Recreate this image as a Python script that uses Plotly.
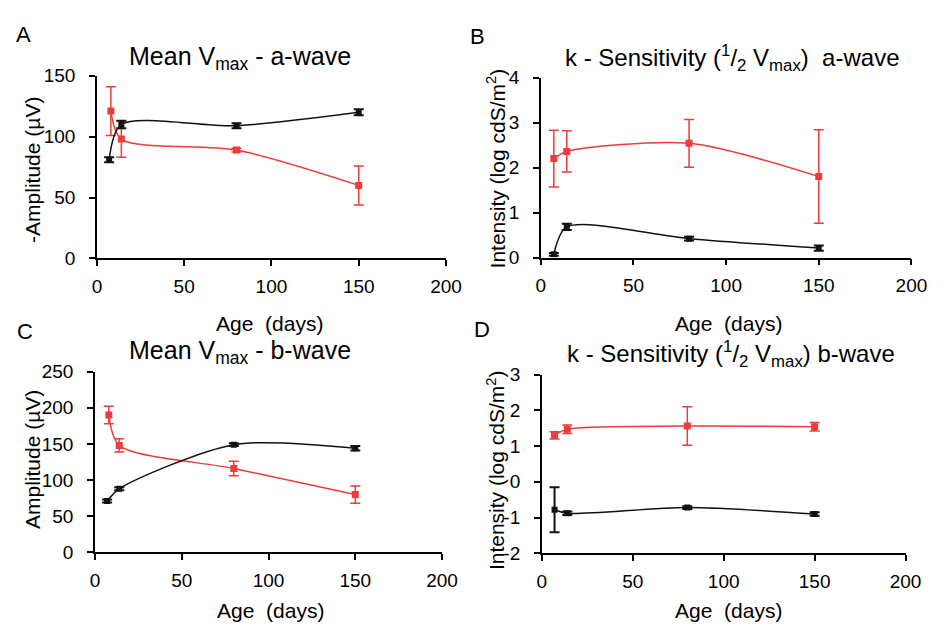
import plotly.graph_objects as go

# ---------------- data ----------------
age = [7, 14, 80, 150]
age_red_vmax = [8, 14, 80, 150]

# A: Mean Vmax a-wave (-Amplitude, uV)
a_vmax_black = [81, 110, 109, 120]
a_vmax_black_err = [2, 3, 2, 2.5]
a_vmax_red = [121, 98, 89, 60]
a_vmax_red_err = [20, 15, 1.5, 16]

# B: k sensitivity a-wave (log cdS/m2)
a_k_black = [0.07, 0.68, 0.42, 0.21]
a_k_black_err = [0.03, 0.07, 0.04, 0.06]
a_k_red = [2.2, 2.36, 2.54, 1.8]
a_k_red_err = [0.63, 0.46, 0.53, 1.04]

# C: Mean Vmax b-wave (Amplitude, uV)
b_vmax_black = [71, 88, 149, 144]
b_vmax_black_err = [2, 2, 2, 3]
b_vmax_red = [190, 148, 116, 80]
b_vmax_red_err = [12, 9, 10, 12]

# D: k sensitivity b-wave
b_k_black = [-0.78, -0.88, -0.72, -0.9]
b_k_black_err = [0.63, 0.05, 0.04, 0.05]
b_k_red = [1.3, 1.47, 1.56, 1.54]
b_k_red_err = [0.1, 0.12, 0.54, 0.12]

x_ticks = [0, 50, 100, 150, 200]
y_ticks_a = [0, 50, 100, 150]
y_ticks_b = [0, 1, 2, 3, 4]
y_ticks_c = [0, 50, 100, 150, 200, 250]
y_ticks_d = [-2, -1, 0, 1, 2, 3]
y_ticktext_d = ["-2", "-1", "0", "1", "2", "3"]

RED = "#ee3b3b"
BLACK = "#111111"
FONT = "Liberation Sans, Arial, sans-serif"

W, H = 946, 634


def px_x(p):
    return p / W


def px_y(p):
    return 1 - p / H


fig = go.Figure()

panels = [
    ("x", "y", age_red_vmax, a_vmax_black, a_vmax_black_err, a_vmax_red, a_vmax_red_err),
    ("x2", "y2", age, a_k_black, a_k_black_err, a_k_red, a_k_red_err),
    ("x3", "y3", age_red_vmax, b_vmax_black, b_vmax_black_err, b_vmax_red, b_vmax_red_err),
    ("x4", "y4", age, b_k_black, b_k_black_err, b_k_red, b_k_red_err),
]

for xa, ya, rx, bk, bke, rd, rde in panels:
    fig.add_trace(go.Scatter(
        x=rx, y=rd, xaxis=xa, yaxis=ya,
        mode="lines+markers",
        line=dict(color=RED, width=1.5, shape="spline", smoothing=0.8),
        marker=dict(symbol="square", size=7, color=RED),
        error_y=dict(type="data", array=rde, color=RED, thickness=1.5, width=5),
        showlegend=False,
    ))
    fig.add_trace(go.Scatter(
        x=age, y=bk, xaxis=xa, yaxis=ya,
        mode="lines+markers",
        line=dict(color=BLACK, width=1.5, shape="spline", smoothing=0.8),
        marker=dict(symbol="square", size=6, color=BLACK),
        error_y=dict(type="data", array=bke, color=BLACK, thickness=2, width=5),
        showlegend=False,
    ))

axis_common = dict(
    showline=True, linecolor="black", linewidth=1.5,
    ticks="outside", ticklen=6, tickwidth=1.5, tickcolor="black",
    showgrid=False, zeroline=False,
    tickfont=dict(family=FONT, size=19, color="black"),
)

domains = {
    "A": dict(x=(94, 451), y=(68, 257), yr=(0, 150), yt=y_ticks_a, ytt=None),
    "B": dict(x=(548, 927), y=(70, 256), yr=(0, 4), yt=y_ticks_b, ytt=None),
    "C": dict(x=(92, 447), y=(374, 561), yr=(0, 250), yt=y_ticks_c, ytt=None),
    "D": dict(x=(549, 921), y=(377, 562), yr=(-2, 3), yt=y_ticks_d, ytt=y_ticktext_d),
}

layout_axes = {}
for i, key in enumerate(["A", "B", "C", "D"]):
    d = domains[key]
    suffix = "" if i == 0 else str(i + 1)
    layout_axes["xaxis" + suffix] = dict(
        axis_common,
        domain=[px_x(d["x"][0]), px_x(d["x"][1])],
        range=[0, 200], tickvals=x_ticks,
        anchor="y" + suffix, ticklabelstandoff=4,
    )
    yax = dict(
        axis_common,
        domain=[px_y(d["y"][1]), px_y(d["y"][0])],
        range=list(d["yr"]), tickvals=d["yt"],
        anchor="x" + suffix, ticklabelstandoff=10,
    )
    if d["ytt"] is not None:
        yax["ticktext"] = d["ytt"]
    layout_axes["yaxis" + suffix] = yax

fig.update_layout(**layout_axes)

annotations = []


def ann(text, x, y, size, angle=0, xanchor="center"):
    annotations.append(dict(
        text=text, x=px_x(x), y=px_y(y), xref="paper", yref="paper",
        showarrow=False, textangle=angle, xanchor=xanchor, yanchor="middle",
        font=dict(family=FONT, size=size, color="black"),
    ))


# panel letters
ann("A", 9, 25, 22, xanchor="left")
ann("B", 473, 27, 22, xanchor="left")
ann("C", 10, 332, 22, xanchor="left")
ann("D", 478, 330, 22, xanchor="left")

# titles
ann("Mean V<sub>max</sub> - a-wave", 240, 50, 25)
ann("k - Sensitivity (<sup>1</sup>/<sub>2</sub> V<sub>max</sub>)  a-wave", 744, 50, 24)
ann("Mean V<sub>max</sub> - b-wave", 240, 354, 25)
ann("k - Sensitivity (<sup>1</sup>/<sub>2</sub> V<sub>max</sub>) b-wave", 742, 356, 24)

# x axis titles
ann("Age  (days)", 270, 324, 21)
ann("Age  (days)", 740, 324, 21)
ann("Age  (days)", 272, 621, 21)
ann("Age  (days)", 740, 621, 21)

# y axis titles
ann("-Amplitude (µV)", 28, 165, 21, angle=-90)
ann("Intensity (log cdS/m<sup>2</sup>)", 502, 164, 21, angle=-90)
ann("Amplitude (µV)", 28, 465, 21, angle=-90)
ann("Intensity (log cdS/m<sup>2</sup>)", 502, 476, 21, angle=-90)

fig.update_layout(
    width=W, height=H,
    margin=dict(l=0, r=0, t=0, b=0),
    paper_bgcolor="white", plot_bgcolor="white",
    annotations=annotations,
    font=dict(family=FONT, color="black"),
)

fig.write_html("out.html")
